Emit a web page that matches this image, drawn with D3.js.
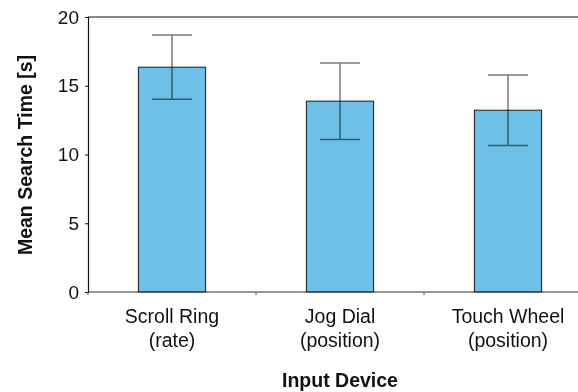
<!DOCTYPE html>
<html>
<head>
<meta charset="utf-8">
<script src="https://cdn.jsdelivr.net/npm/d3@7"></script>
<style>
  body { margin: 0; background: #fff; }
  svg { display: block; }
  text { font-family: "Liberation Sans", Arial, sans-serif; fill: #111; }
</style>
</head>
<body>
<svg id="chart" width="578" height="392"></svg>
<script>
// values
const devices = ['Scroll Ring|(rate)', 'Jog Dial|(position)', 'Touch Wheel|(position)'];
const meanTime = [16.35, 13.88, 13.22];
const errTime = [2.34, 2.78, 2.56];
const yTicks = [0, 5, 10, 15, 20];

const svg = d3.select('#chart');
const W = 578, H = 392;
const m = { left: 88, top: 17, right: -14, bottom: 100 };
const plotW = W - m.left - m.right;
const plotH = H - m.top - m.bottom;

const g = svg.append('g').attr('transform', 'translate(' + m.left + ',' + m.top + ')');

const x = d3.scaleBand().domain(devices).range([0, plotW]).paddingInner(0.6).paddingOuter(0.3);
const y = d3.scaleLinear().domain([0, 20]).range([plotH, 0]);

let data = devices.map(function(d, i) {
  return { name: d, mean: meanTime[i], err: errTime[i] };
});

// frame top line
g.append('line').attr('x1', 0).attr('x2', plotW).attr('y1', 0).attr('y2', 0)
  .attr('stroke', '#111').attr('stroke-width', 1.2);

// bars
g.selectAll('.bar').data(data).enter().append('rect')
  .attr('class', 'bar')
  .attr('x', d => x(d.name))
  .attr('width', x.bandwidth())
  .attr('y', d => y(d.mean))
  .attr('height', d => y(0) - y(d.mean))
  .attr('fill', '#6ec0e8')
  .attr('stroke', '#1a1a1a')
  .attr('stroke-width', 1);

// error bars
const capW = 40;
let eb = g.selectAll('.err').data(data).enter().append('g')
  .attr('class', 'err')
  .style('mix-blend-mode', 'multiply')
  .attr('transform', d => 'translate(' + (x(d.name) + x.bandwidth() / 2) + ',0)');
eb.append('line').attr('x1', 0).attr('x2', 0)
  .attr('y1', d => y(d.mean + d.err)).attr('y2', d => y(d.mean - d.err))
  .attr('stroke', '#7a7a7a').attr('stroke-width', 1.5);
eb.append('line').attr('x1', -capW / 2).attr('x2', capW / 2)
  .attr('y1', d => y(d.mean + d.err)).attr('y2', d => y(d.mean + d.err))
  .attr('stroke', '#7a7a7a').attr('stroke-width', 1.5);
eb.append('line').attr('x1', -capW / 2).attr('x2', capW / 2)
  .attr('y1', d => y(d.mean - d.err)).attr('y2', d => y(d.mean - d.err))
  .attr('stroke', '#7a7a7a').attr('stroke-width', 1.5);

// y axis
let ya = g.append('g').call(d3.axisLeft(y).tickValues(yTicks).tickSize(3).tickPadding(6));
ya.select('.domain').attr('stroke', '#111').attr('stroke-width', 1.2);
ya.selectAll('.tick line').attr('stroke', '#111');
ya.selectAll('.tick text').style('font-size', '19px').attr('fill', '#111');

// x axis: base line with ticks at category boundaries
let xa = g.append('g').attr('transform', 'translate(0,' + plotH + ')');
xa.append('line').attr('x1', 0).attr('x2', plotW).attr('stroke', '#333').attr('stroke-width', 1.2);
xa.selectAll('.xt').data(d3.range(devices.length + 1)).enter().append('line')
  .attr('x1', i => i * plotW / devices.length).attr('x2', i => i * plotW / devices.length)
  .attr('y1', 0).attr('y2', 3).attr('stroke', '#555');

xa.selectAll('.xl').data(devices).enter().append('text')
  .attr('text-anchor', 'middle')
  .attr('transform', d => 'translate(' + (x(d) + x.bandwidth() / 2) + ',0)')
  .style('font-size', '19.5px')
  .each(function(d) {
    let parts = d.split('|');
    let t = d3.select(this);
    parts.forEach(function(p, k) {
      t.append('tspan').attr('x', 0).attr('y', 31 + k * 24).text(p);
    });
  });

// axis titles
svg.append('text')
  .attr('x', m.left + plotW / 2).attr('y', 387)
  .attr('text-anchor', 'middle')
  .style('font-size', '19.5px').style('font-weight', 'bold')
  .text('Input Device');

svg.append('text')
  .attr('transform', 'translate(32,' + (m.top + 138) + ') rotate(-90)')
  .attr('text-anchor', 'middle')
  .style('font-size', '19.5px').style('font-weight', 'bold')
  .text('Mean Search Time [s]');
</script>
</body>
</html>
